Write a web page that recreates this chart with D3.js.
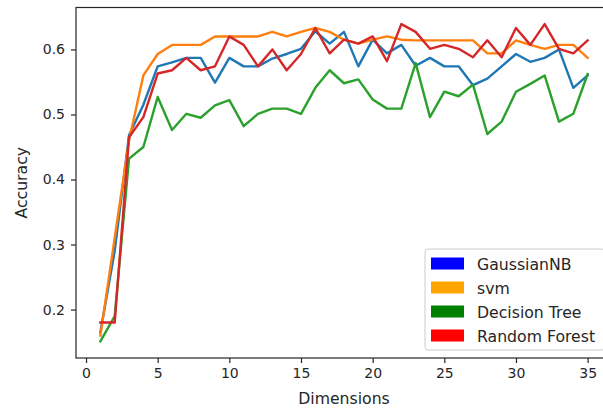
<!DOCTYPE html>
<html><head><meta charset="utf-8">
<script src="https://cdn.jsdelivr.net/npm/d3@7"></script>
<style>
html,body{margin:0;padding:0;background:#fff;overflow:hidden}
text{font-family:"DejaVu Sans",sans-serif;fill:#262626}
</style></head>
<body><svg id="c" width="603" height="409"></svg>
<script>
const dims = d3.range(1, 36);
const gaussianNB = [0.165,0.29,0.468,0.515,0.574,0.580,0.587,0.587,0.549,0.587,0.574,0.574,0.586,0.593,0.601,0.628,0.609,0.627,0.574,0.615,0.594,0.607,0.575,0.587,0.574,0.574,0.545,0.555,0.574,0.593,0.581,0.587,0.600,0.541,0.560];
const svm = [0.160,0.31,0.460,0.560,0.593,0.607,0.607,0.607,0.620,0.620,0.620,0.620,0.627,0.620,0.627,0.633,0.627,0.615,0.609,0.615,0.620,0.615,0.614,0.614,0.614,0.614,0.614,0.594,0.594,0.614,0.607,0.601,0.607,0.607,0.587];
const decisionTree = [0.151,0.190,0.432,0.450,0.527,0.476,0.501,0.495,0.514,0.522,0.482,0.501,0.509,0.509,0.501,0.541,0.568,0.548,0.554,0.523,0.509,0.509,0.579,0.496,0.535,0.528,0.546,0.470,0.489,0.535,0.547,0.560,0.489,0.501,0.562];
const randomForest = [0.180,0.180,0.465,0.496,0.563,0.568,0.587,0.568,0.574,0.620,0.607,0.574,0.600,0.568,0.593,0.633,0.594,0.615,0.609,0.620,0.582,0.639,0.627,0.601,0.607,0.601,0.588,0.614,0.588,0.633,0.607,0.639,0.601,0.594,0.614];
const seriesNames = ["GaussianNB","svm","Decision Tree","Random Forest"];
const lineColors = ["#1f77b4","#ff7f0e","#2ca02c","#d62728"];
const legendColors = ["#0000ff","#ffa500","#008000","#ff0000"];
const xTicks = [0,5,10,15,20,25,30,35];
const yTicks = [0.2,0.3,0.4,0.5,0.6];

const svg = d3.select("#c");
const L=76, R=612, T=7.5, B=358;
const x = d3.scaleLinear().domain([-0.7,36.7]).range([L,R]);
const y = d3.scaleLinear().domain([0.1255,0.6645]).range([B,T]);

const series = [gaussianNB, svm, decisionTree, randomForest];
const line = d3.line().x((d,i)=>x(dims[i])).y(d=>y(d));
series.forEach((s,k)=>{
  svg.append("path").datum(s).attr("d",line).attr("fill","none")
    .attr("stroke",lineColors[k]).attr("stroke-width",2.4).attr("stroke-linejoin","round").attr("stroke-linecap","square");
});

// axes
const xa = svg.append("g").attr("transform",`translate(0,${B})`)
  .call(d3.axisBottom(x).tickValues(xTicks).tickFormat(d3.format("d")).tickSize(5).tickPadding(5));
const ya = svg.append("g").attr("transform",`translate(${L},0)`)
  .call(d3.axisLeft(y).tickValues(yTicks).tickFormat(d3.format(".1f")).tickSize(5).tickPadding(6));
[xa,ya].forEach(a=>{
  a.select(".domain").remove();
  a.selectAll("line").attr("stroke","#262626").attr("stroke-width",1.2);
  a.selectAll("text").style("font-size","14px").attr("fill","#262626");
});
// spines
svg.append("rect").attr("x",L).attr("y",T).attr("width",R-L).attr("height",B-T)
  .attr("fill","none").attr("stroke","#262626").attr("stroke-width",1.2);

svg.append("text").attr("x",(L+R)/2).attr("y",404).attr("text-anchor","middle")
  .style("font-size","15.7px").text("Dimensions");
svg.append("text").attr("transform",`translate(27,${(T+B)/2}) rotate(-90)`).attr("text-anchor","middle")
  .style("font-size","15.7px").text("Accuracy");

// legend
const lg = svg.append("g");
lg.append("rect").attr("x",425).attr("y",249).attr("width",180).attr("height",101).attr("rx",3)
  .attr("fill","#fff").attr("fill-opacity",0.8).attr("stroke","#cccccc").attr("stroke-width",1);
seriesNames.forEach((n,i)=>{
  const cy = 264 + i*24;
  lg.append("rect").attr("x",431).attr("y",cy-6.5).attr("width",33).attr("height",12)
    .attr("fill",legendColors[i]);
  lg.append("text").attr("x",477).attr("y",cy).attr("dy","0.36em").style("font-size","15.7px").text(n);
});
</script></body></html>
